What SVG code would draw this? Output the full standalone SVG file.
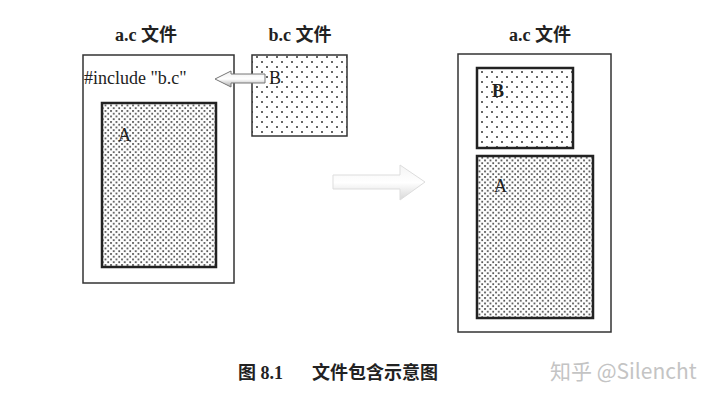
<svg xmlns="http://www.w3.org/2000/svg" width="720" height="408" viewBox="0 0 720 408">
<style>
.lbl{font-family:"Liberation Serif","Noto Sans CJK SC",serif;font-weight:bold;font-size:18px;fill:#222}
.box{stroke:#333;stroke-width:1.5}
.inner{stroke:#222;stroke-width:2.5}
.letter{font-family:"Liberation Serif",serif;font-size:18px;fill:#222}
</style>
<defs>
<pattern id="sparse" width="10" height="10" patternUnits="userSpaceOnUse">
<rect width="10" height="10" fill="#fff"/>
<circle cx="2" cy="2" r="1" fill="#333"/>
<circle cx="7" cy="7" r="1" fill="#333"/>
</pattern>
<pattern id="dense" width="5.5" height="5.5" patternUnits="userSpaceOnUse">
<rect width="5.5" height="5.5" fill="#fff"/>
<circle cx="1" cy="1" r="1" fill="#444"/>
<circle cx="3.75" cy="3.75" r="1" fill="#444"/>
</pattern>
<linearGradient id="g1" x1="0" y1="0" x2="0" y2="1">
<stop offset="0" stop-color="#f4f4f4"/>
<stop offset="0.5" stop-color="#fff"/>
<stop offset="1" stop-color="#d8d8d8"/>
</linearGradient>
<linearGradient id="g2" x1="0" y1="0" x2="0" y2="1">
<stop offset="0" stop-color="#eee"/>
<stop offset="0.5" stop-color="#fff"/>
<stop offset="1" stop-color="#aaa"/>
</linearGradient>
</defs>
<rect width="720" height="408" fill="#fff"/>

<g id="ac-left">
<text class="lbl" x="146" y="41" text-anchor="middle">a.c 文件</text>
<rect class="box" x="83" y="55" width="151" height="228" fill="#fff"/>
<text x="84" y="84" font-family="Liberation Serif,serif" font-size="18" fill="#222">#include "b.c"</text>
</g>
<g id="a-left">
<rect class="inner" x="102" y="103" width="114" height="164" fill="url(#dense)"/>
<text class="letter" x="118" y="141">A</text>
</g>
<g id="bc">
<text class="lbl" x="300" y="41" text-anchor="middle">b.c 文件</text>
<rect class="box" x="252" y="55" width="95" height="81" fill="url(#sparse)" stroke-width="2"/>
<text class="letter" x="269" y="84">B</text>
</g>

<g id="ac-right">
<text class="lbl" x="540" y="41" text-anchor="middle">a.c 文件</text>
<rect class="box" x="458" y="54" width="153" height="278" fill="#fff"/>
</g>
<g id="b-right">
<rect class="inner" x="477" y="68" width="96" height="80" fill="url(#sparse)"/>
<text class="letter" x="492" y="97" font-weight="bold">B</text>
</g>
<g id="a-right">
<rect class="inner" x="477" y="156" width="116" height="162" fill="url(#dense)"/>
<text class="letter" x="494" y="192">A</text>
</g>

<g id="connectors">
<path d="M265,74 L231,74 L231,71 L215,79 L231,87 L231,83 L265,83 Z" fill="url(#g2)" stroke="#777" stroke-width="1"/>
<path d="M333,175 L400,175 L400,165 L425,182 L400,200 L400,189 L333,189 Z" fill="url(#g1)" stroke="#ddd" stroke-width="1"/>
</g>

<g id="caption">
<text class="lbl" x="238" y="379" font-size="21">图 8.1<tspan x="312">文件包含示意图</tspan></text>
<text x="550" y="379" font-family="Noto Sans CJK SC,sans-serif" font-size="21" fill="#c4c4c4">知乎 @Silencht</text>
</g>
</svg>
